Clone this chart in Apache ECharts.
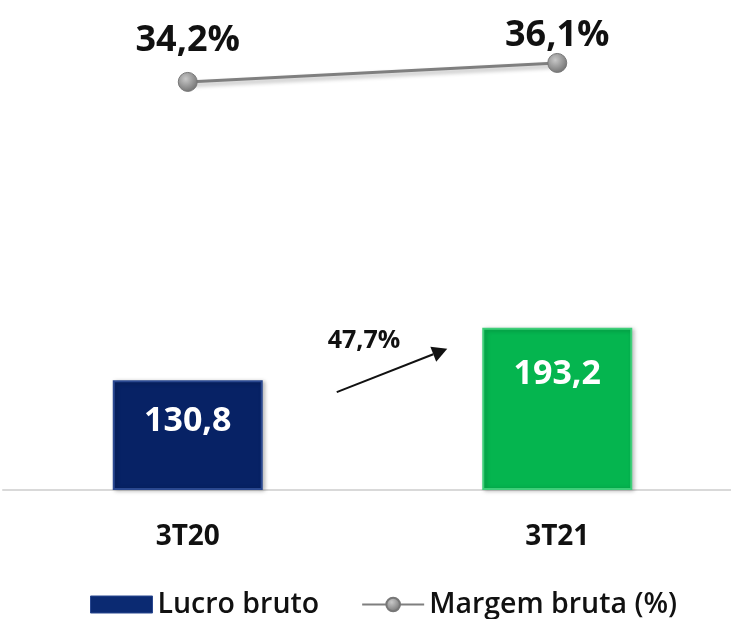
<!DOCTYPE html>
<html lang="pt">
  <head>
    <meta charset="UTF-8">
    <title>Lucro bruto</title>
    <script src="https://cdn.jsdelivr.net/npm/echarts@6/dist/echarts.min.js"></script>
    <style>
      html, body { margin: 0; padding: 0; background: #fff; }
      #chart { width: 731px; height: 619px; }
    </style>
  </head>
  <body>
    <div id="chart"></div>
    <script>
      // dados
      const categorias = ['3T20', '3T21']
      const lucroBruto = [130.8, 193.2]
      const margemBruta = [34.2, 36.1]

      const corBarras = ['#072265', '#05b54f']
      const bordaBarras = ['#2a4890', '#3fcf7a']
      const distBarras = [24, 30] // posição dos rótulos nas barras
      const distMargem = [13, -1] // posição dos rótulos da margem
      const fonte = 'Open Sans'

      const fmt = v => v.toFixed(1).replace('.', ',')
      const crescimento = (lucroBruto[1] / lucroBruto[0] - 1) * 100

      const chart = echarts.init(document.getElementById('chart'))

      const option = {
        animation: false,
        textStyle: { fontFamily: fonte },
        grid: { left: 3, width: 739, top: 40, bottom: 129, outerBoundsMode: 'none', containLabel: false },
        legend: {
          top: 585,
          left: 85,
          itemGap: 42,
          itemWidth: 62,
          itemHeight: 17,
          textStyle: { fontSize: 28.5, fontWeight: 600, color: '#111', fontFamily: fonte },
          data: [
            { name: 'Lucro bruto', icon: 'rect', itemStyle: { color: '#0b2a72', borderColor: '#2a4890', borderWidth: 1 } },
            { name: 'Margem bruta (%)' }
          ]
        },
        xAxis: {
          type: 'category',
          data: categorias,
          axisLine: { lineStyle: { color: '#d9d9d9', width: 2 } },
          axisTick: { show: false },
          axisLabel: { margin: 33, fontSize: 28, fontWeight: 'bold', color: '#111' }
        },
        yAxis: [
          { type: 'value', min: 0, max: 536, show: false, splitLine: { show: false } },
          { type: 'value', min: -6.7, max: 38.4, show: false, splitLine: { show: false } }
        ],
        series: [
          {
            name: 'Lucro bruto',
            type: 'bar',
            barWidth: 150,
            data: lucroBruto.map((v, i) => ({
              value: v,
              label: { distance: distBarras[i] },
              itemStyle: {
                color: corBarras[i],
                borderColor: bordaBarras[i],
                borderWidth: 2,
                shadowColor: 'rgba(0,0,0,0.25)',
                shadowBlur: 4,
                shadowOffsetX: 2,
                shadowOffsetY: 1
              }
            })),
            label: {
              show: true,
              position: 'insideTop',
              fontSize: 34,
              fontWeight: 'bold',
              color: '#fff',
              formatter: p => fmt(p.value)
            }
          },
          {
            name: 'Margem bruta (%)',
            type: 'line',
            yAxisIndex: 1,
            data: margemBruta.map((v, i) => ({ value: v, label: { distance: distMargem[i] } })),
            symbol: 'circle',
            symbolSize: 19,
            itemStyle: {
              color: new echarts.graphic.RadialGradient(0.4, 0.35, 0.7, [
                { offset: 0, color: '#c8c8c8' },
                { offset: 1, color: '#6e6e6e' }
              ]),
              borderColor: '#777',
              borderWidth: 1
            },
            lineStyle: {
              color: '#7f7f7f',
              width: 3,
              shadowColor: 'rgba(0,0,0,0.3)',
              shadowBlur: 4,
              shadowOffsetY: 3
            },
            label: {
              show: true,
              position: 'top',
              fontSize: 36,
              fontWeight: 'bold',
              color: '#111',
              formatter: p => fmt(p.value) + '%'
            }
          }
        ]
      }

      chart.setOption(option)

      // seta de crescimento entre as barras
      const p0 = chart.convertToPixel({ seriesIndex: 0 }, [0, lucroBruto[0]])
      const p1 = chart.convertToPixel({ seriesIndex: 0 }, [1, lucroBruto[1]])
      const x1 = p0[0] + 149, y1 = p0[1] + 12
      const x2 = p1[0] - 110, y2 = p1[1] + 21
      const ang = Math.atan2(y2 - y1, x2 - x1)
      const ah = 15, aw = 8
      chart.setOption({
        graphic: [
          {
            type: 'line',
            shape: { x1: x1, y1: y1, x2: x2 - Math.cos(ang) * ah, y2: y2 - Math.sin(ang) * ah },
            style: { stroke: '#111', lineWidth: 2 }
          },
          {
            type: 'polygon',
            shape: {
              points: [
                [x2, y2],
                [x2 - Math.cos(ang) * ah - Math.sin(ang) * aw, y2 - Math.sin(ang) * ah + Math.cos(ang) * aw],
                [x2 - Math.cos(ang) * ah + Math.sin(ang) * aw, y2 - Math.sin(ang) * ah - Math.cos(ang) * aw]
              ]
            },
            style: { fill: '#111' }
          },
          {
            type: 'text',
            left: x1 - 9,
            top: y2 - 20,
            style: {
              text: fmt(crescimento) + '%',
              fontSize: 25,
              fontWeight: 'bold',
              fontFamily: fonte,
              fill: '#111'
            }
          }
        ]
      })
    </script>
  </body>
</html>
